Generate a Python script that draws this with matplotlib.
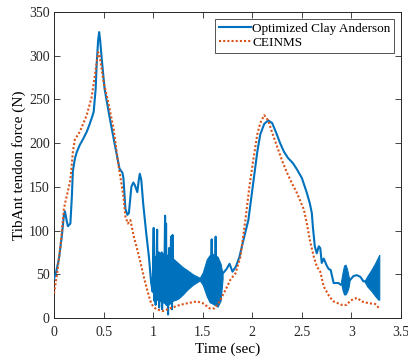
import matplotlib
matplotlib.use("Agg")
import matplotlib.pyplot as plt

plt.rcParams['font.family'] = ['Liberation Serif', 'DejaVu Serif']

# Optimized Clay Anderson (blue) main trace
t_blue = [0.0, 0.02, 0.05, 0.08, 0.10, 0.11, 0.13, 0.14, 0.165, 0.18, 0.19, 0.21, 0.23, 0.26, 0.29,
          0.33, 0.36, 0.39, 0.40, 0.42, 0.43, 0.445, 0.455, 0.465, 0.48, 0.51, 0.56, 0.61, 0.66,
          0.69, 0.70, 0.72, 0.74, 0.755, 0.78, 0.80, 0.815, 0.84, 0.855, 0.865, 0.88, 0.90, 0.93,
          0.957, 0.98, 0.995,
          1.005, 1.01, 1.02, 1.025, 1.035, 1.04, 1.045, 1.055, 1.06, 1.07, 1.08, 1.085, 1.09,
          1.10, 1.11, 1.12, 1.125, 1.13, 1.135, 1.14, 1.15, 1.16, 1.17, 1.18, 1.19, 1.195,
          1.20, 1.21, 1.22, 1.23,
          1.30, 1.40, 1.47, 1.55, 1.58, 1.59, 1.60, 1.62, 1.63, 1.64, 1.66, 1.69,
          1.71, 1.74, 1.77, 1.80, 1.835, 1.87, 1.91, 1.96, 2.01, 2.05, 2.08, 2.12, 2.16, 2.20,
          2.24, 2.28, 2.32, 2.36, 2.41, 2.45, 2.50, 2.55, 2.58, 2.60, 2.61, 2.63, 2.65, 2.67,
          2.685, 2.70, 2.72, 2.75, 2.77, 2.79, 2.82, 2.84, 2.87, 2.89, 2.91,
          2.94, 2.97, 2.99, 3.02, 3.055, 3.09, 3.12, 3.14]
f_blue = [45, 52, 68, 95, 118, 122, 110, 105, 108, 139, 168, 182, 190, 198, 204,
          213, 222, 232, 236, 262, 290, 318, 327, 318, 298, 262, 230, 200, 171,
          166, 160, 125, 118, 120, 150, 155, 152, 144, 158, 165, 158, 130, 97,
          70, 40, 30,
          103, 20, 70, 15, 72, 101, 22, 75, 12, 60, 30, 75, 10,
          65, 20, 117, 25, 108, 15, 70, 4, 80, 30, 93, 10, 95,
          20, 60, 30, 45,
          44, 44, 44, 44, 45, 90, 40, 45, 93, 40, 45, 50,
          52, 56, 62, 53, 59, 70, 89, 112, 155, 190, 210, 222, 226, 223,
          212, 200, 190, 183, 177, 170, 160, 143, 131, 120, 105, 82, 74, 82,
          80, 63, 68, 60, 56, 55, 40, 40, 40, 38, 40,
          42, 42, 44, 48, 49, 47, 42, 42]

# Dense oscillation envelopes of the blue trace
t_band1 = [0.995, 1.01, 1.06, 1.10, 1.15, 1.20, 1.23, 1.25, 1.30, 1.34, 1.40, 1.47, 1.50, 1.54,
           1.57, 1.59, 1.62, 1.65, 1.68, 1.70]
lo_band1 = [30, 22, 20, 18, 15, 20, 21, 22, 27, 32, 38, 43, 38, 25, 18, 17, 15, 13, 20, 45]
hi_band1 = [40, 70, 74, 74, 72, 68, 65, 63, 58, 55, 50, 46, 52, 67, 72, 74, 72, 70, 62, 50]

t_band2 = [2.895, 2.91, 2.925, 2.94, 2.955, 2.97, 2.98]
lo_band2 = [40, 32, 27, 27, 30, 35, 42]
hi_band2 = [42, 52, 60, 61, 56, 48, 44]

t_band3 = [3.13, 3.16, 3.20, 3.24, 3.27, 3.28]
lo_band3 = [42, 36, 31, 25, 21, 21]
hi_band3 = [42, 48, 55, 63, 70, 72]

# CEINMS (orange dotted)
t_ce = [0.0, 0.03, 0.065, 0.10, 0.115, 0.14, 0.165, 0.19, 0.21, 0.26, 0.33, 0.38, 0.41, 0.445,
        0.46, 0.50, 0.55, 0.60, 0.65, 0.70, 0.72, 0.745, 0.77, 0.805, 0.84, 0.873, 0.91, 0.94,
        0.97, 0.99, 1.03, 1.10, 1.17, 1.27, 1.35, 1.44, 1.50, 1.57, 1.62, 1.67, 1.72, 1.78,
        1.83, 1.88, 1.93, 1.97, 2.01, 2.05, 2.08, 2.12, 2.16, 2.20, 2.25, 2.30, 2.35, 2.40,
        2.45, 2.52, 2.55, 2.58, 2.62, 2.65, 2.685, 2.72, 2.75, 2.78, 2.82, 2.86, 2.90, 2.95,
        2.99, 3.03, 3.055, 3.08, 3.10, 3.17, 3.24, 3.28]
f_ce = [28, 50, 82, 125, 133, 145, 158, 190, 204, 213, 232, 253, 276, 304,
        300, 270, 245, 217, 175, 139, 116, 108, 112, 93, 78, 63, 45, 32,
        20, 15, 10, 8, 11, 15, 17, 19, 17, 11, 11, 19, 30, 44,
        51, 70, 112, 150, 181, 210, 223, 232, 226, 212, 196, 180, 166, 154,
        143, 124, 108, 89, 70, 59, 53, 36, 30, 24, 19, 17, 15, 15,
        20, 22, 23, 21, 19, 17, 16, 11]

blue = '#0072BD'
orange = '#D95319'

fig = plt.figure(figsize=(4.08, 3.58), dpi=100)
ax = fig.add_axes([0.1324, 0.1117, 0.8506, 0.8548])

ax.fill_between(t_band1, lo_band1, hi_band1, color=blue, linewidth=0.8, zorder=2)
ax.fill_between(t_band2, lo_band2, hi_band2, color=blue, linewidth=0.8, zorder=2)
ax.fill_between(t_band3, lo_band3, hi_band3, color=blue, linewidth=0.8, zorder=2)
ax.plot(t_blue, f_blue, color=blue, linewidth=1.5, zorder=3, label='Optimized Clay Anderson')
ax.plot(t_ce, f_ce, color=orange, linewidth=1.5, linestyle=(0, (1, 1)), zorder=4, label='CEINMS')

ax.set_xlim(0, 3.5)
ax.set_ylim(0, 350)
ax.set_xticks([0, 0.5, 1, 1.5, 2, 2.5, 3, 3.5])
ax.set_xticklabels(['0', '0.5', '1', '1.5', '2', '2.5', '3', '3.5'])
ax.set_yticks([0, 50, 100, 150, 200, 250, 300, 350])
ax.tick_params(direction='in', top=True, right=True, length=4, width=0.6,
               labelsize=10, colors='#262626')
ax.tick_params(axis='x', pad=6)
ax.tick_params(axis='y', pad=3)
for s in ax.spines.values():
    s.set_linewidth(0.7)
    s.set_color('#262626')

ax.set_xlabel('Time (sec)', fontsize=11, labelpad=2)
ax.set_ylabel('TibAnt tendon force (N)', fontsize=11, labelpad=2)

leg = ax.legend(loc='upper right', fontsize=9.5, frameon=True, fancybox=False,
                edgecolor='#262626', handlelength=2.4, handletextpad=0.1,
                borderpad=0.3, labelspacing=0.15, borderaxespad=0.5)
leg.get_frame().set_linewidth(0.7)

fig.savefig('out.png', dpi=100)
